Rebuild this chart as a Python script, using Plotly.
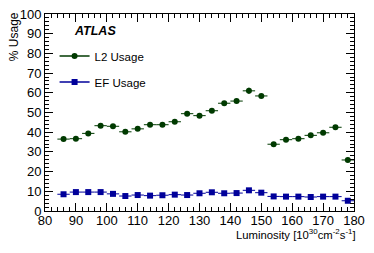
import plotly.graph_objects as go

# Data
lumi = [86, 90, 94, 98, 102, 106, 110, 114, 118, 122, 126, 130,
        134, 138, 142, 146, 150, 154, 158, 162, 166, 170, 174, 178]
bin_half_width = [2] * len(lumi)
l2_usage = [36.5, 36.7, 39.4, 43.3, 43.0, 40.2, 41.7, 43.8, 43.8, 45.3, 49.4, 48.4,
            50.9, 54.7, 55.8, 61.0, 58.4, 33.9, 36.2, 36.7, 38.4, 39.7, 42.5, 25.9]
l2_err = [0.5, 0.5, 0.5, 0.5, 0.5, 0.5, 0.5, 0.5, 0.5, 0.6, 0.6, 0.6,
          0.7, 0.8, 0.8, 1.6, 0.8, 0.7, 0.6, 0.6, 0.6, 0.6, 0.8, 1.0]
ef_usage = [8.5, 9.6, 9.6, 9.6, 8.7, 7.6, 8.1, 7.8, 8.0, 8.3, 8.1, 9.0,
            9.5, 9.0, 9.1, 10.5, 9.3, 7.4, 7.3, 7.3, 7.1, 7.3, 7.3, 5.2]
ef_err = [0.3] * len(lumi)

x_ticks = [80, 90, 100, 110, 120, 130, 140, 150, 160, 170, 180]
y_ticks = [0, 10, 20, 30, 40, 50, 60, 70, 80, 90, 100]

green = "#003a00"
blue = "#00009a"
font = "Liberation Sans, Arial, sans-serif"

fig = go.Figure()

fig.add_trace(go.Scatter(
    x=lumi, y=l2_usage, mode="markers", showlegend=False,
    marker=dict(symbol="circle", size=6, color=green),
    error_x=dict(type="data", array=bin_half_width, width=0, thickness=1, color=green),
    error_y=dict(type="data", array=l2_err, width=0, thickness=1, color=green),
))
fig.add_trace(go.Scatter(
    x=lumi, y=ef_usage, mode="markers", showlegend=False,
    marker=dict(symbol="square", size=6, color=blue),
    error_x=dict(type="data", array=bin_half_width, width=0, thickness=1, color=blue),
    error_y=dict(type="data", array=ef_err, width=0, thickness=1, color=blue),
))
# legend entries
fig.add_trace(go.Scatter(
    x=[None], y=[None], mode="lines+markers", name="L2 Usage", legendgroup="a",
    marker=dict(symbol="circle", size=6, color=green), line=dict(color=green, width=1.5),
))
fig.add_trace(go.Scatter(
    x=[None], y=[None], mode="lines+markers", name="EF Usage", legendgroup="b",
    marker=dict(symbol="square", size=6, color=blue), line=dict(color=blue, width=1.5),
))

axis_common = dict(
    showline=True, linecolor="black", linewidth=1, mirror="allticks",
    ticks="inside", ticklen=8, tickcolor="black", tickwidth=1,
    showgrid=False, zeroline=False, automargin=False,
    tickfont=dict(family=font, size=13, color="black"),
)

fig.update_xaxes(range=[80, 180], tickvals=x_ticks, ticktext=[str(v) for v in x_ticks],
                 ticklabelstandoff=-3,
                 minor=dict(ticks="inside", dtick=2, ticklen=4, tickcolor="black", showgrid=False),
                 **axis_common)
fig.update_yaxes(range=[0, 100], tickvals=y_ticks, ticktext=[str(v) for v in y_ticks],
                 minor=dict(ticks="inside", dtick=2, ticklen=4, tickcolor="black", showgrid=False),
                 **axis_common)

fig.update_layout(
    width=374, height=253,
    margin=dict(l=45, r=20, t=14, b=42),
    paper_bgcolor="white", plot_bgcolor="white",
    font=dict(family=font, size=13, color="black"),
    legend=dict(x=0.031, y=0.86, xanchor="left", yanchor="top",
                bgcolor="rgba(0,0,0,0)", itemwidth=30, tracegroupgap=7,
                traceorder="grouped", font=dict(family=font, size=11.5)),
    annotations=[
        dict(text="<b><i>ATLAS</i></b>", x=0.086, y=0.914, xref="paper", yref="paper",
             xanchor="left", yanchor="middle", showarrow=False,
             font=dict(family=font, size=12.5, color="black")),
        dict(text="% Usage", x=-0.10, y=0.883, xref="paper", yref="paper",
             xanchor="center", yanchor="middle", textangle=-90, showarrow=False,
             font=dict(family=font, size=12, color="black")),
        dict(text="Luminosity [10<sup>30</sup>cm<sup>-2</sup>s<sup>-1</sup>]", x=0.612, y=-0.115,
             xref="paper", yref="paper", xanchor="left", yanchor="middle", showarrow=False,
             font=dict(family=font, size=11.3, color="black")),
    ],
)

fig.write_html("out.html", config={"displayModeBar": False},
               post_script="document.body.style.margin='0';document.body.style.overflow='hidden';")
